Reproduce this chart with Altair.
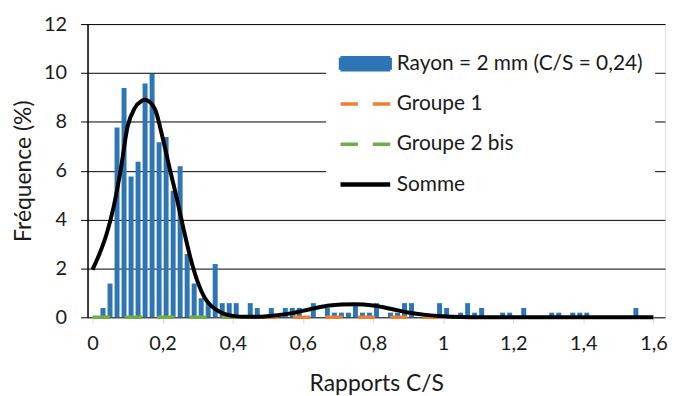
import altair as alt
import pandas as pd

# ---------------- data ----------------
SERIES = ["Rayon = 2 mm (C/S = 0,24)", "Groupe 1", "Groupe 2 bis", "Somme"]
COLORS = ["#2e75b6", "#ed7d31", "#70ad47", "#000000"]

# histogram (bin centres, frequency %)
bar_x = [0.03, 0.05, 0.07, 0.09, 0.11, 0.13, 0.15, 0.17, 0.19, 0.21,
         0.23, 0.25, 0.27, 0.29, 0.31, 0.33, 0.35, 0.37, 0.39, 0.41,
         0.45, 0.47, 0.51, 0.55, 0.57, 0.59, 0.63, 0.67, 0.69, 0.71,
         0.73, 0.75, 0.77, 0.79, 0.81, 0.85, 0.87, 0.89, 0.91, 0.99,
         1.01, 1.05, 1.07, 1.09, 1.11, 1.17, 1.19, 1.23, 1.31, 1.33,
         1.37, 1.39, 1.41, 1.55]
bar_y = [0.38, 1.38, 7.77, 9.38, 5.76, 6.37, 9.57, 9.97, 7.16, 7.38,
         5.18, 6.18, 2.59, 1.38, 0.78, 0.58, 2.18, 0.58, 0.58, 0.58,
         0.58, 0.38, 0.38, 0.38, 0.38, 0.38, 0.58, 0.38, 0.19, 0.19,
         0.19, 0.58, 0.19, 0.19, 0.58, 0.19, 0.19, 0.58, 0.58, 0.58,
         0.38, 0.19, 0.58, 0.19, 0.38, 0.19, 0.19, 0.38, 0.19, 0.19,
         0.19, 0.19, 0.19, 0.38]

# sum curve
somme_x = [0.0, 0.02, 0.04, 0.06, 0.08, 0.10, 0.12, 0.14, 0.15, 0.16,
           0.18, 0.20, 0.22, 0.24, 0.26, 0.28, 0.30, 0.32, 0.34, 0.36,
           0.38, 0.40, 0.43, 0.47, 0.52, 0.57, 0.62, 0.67, 0.71, 0.75,
           0.80, 0.85, 0.90, 0.95, 1.00, 1.05, 1.10, 1.20, 1.40, 1.60]
somme_y = [1.95, 2.6, 3.4, 4.5, 6.0, 7.8, 8.55, 8.85, 8.9, 8.85,
           8.45, 7.35, 6.1, 4.9, 3.6, 2.4, 1.45, 0.8, 0.45, 0.25,
           0.12, 0.06, 0.02, 0.02, 0.07, 0.17, 0.33, 0.47, 0.52, 0.53,
           0.48, 0.35, 0.2, 0.1, 0.04, 0.01, 0.0, 0.0, 0.0, 0.0]

groupe1_x = [0.48, 1.0]
groupe1_y = [0.0, 0.0]
groupe2_x = [0.0, 0.41]
groupe2_y = [0.0, 0.0]

x_ticks = [0, 0.2, 0.4, 0.6, 0.8, 1.0, 1.2, 1.4, 1.6]
y_ticks = [0, 2, 4, 6, 8, 10, 12]

# ---------------- tables ----------------
bars = pd.DataFrame({"x": bar_x, "y": bar_y, "serie": SERIES[0]})
g1 = pd.DataFrame({"x": groupe1_x, "y": groupe1_y, "serie": SERIES[1]})
g2 = pd.DataFrame({"x": groupe2_x, "y": groupe2_y, "serie": SERIES[2]})
som = pd.DataFrame({"x": somme_x, "y": somme_y, "serie": SERIES[3]})

FONT = "Lato"
TXT = "#1a1a1a"

R = SERIES[0]
leg = alt.Legend(
    title=None, orient="none", legendX=240, legendY=18,
    fillColor="white", padding=12,
    symbolSize=2500, clipHeight=20, rowPadding=19.5,
    symbolOffset=17,
    labelFont=FONT, labelFontSize=21, labelColor=TXT, labelOffset=21,
    labelLimit=400,
    symbolType={"expr": f"datum.value === '{R}' ? 'M-1,-0.24L1,-0.24L1,0.24L-1,0.24Z' : 'M-1,0L1,0'"},
    symbolFillColor={"expr": f"datum.value === '{R}' ? '{COLORS[0]}' : 'transparent'"},
    symbolStrokeColor={"expr": f"datum.value === '{R}' ? 'transparent' : datum.value === '{SERIES[1]}' ? '{COLORS[1]}' : datum.value === '{SERIES[2]}' ? '{COLORS[2]}' : '{COLORS[3]}'"},
    symbolDash={"expr": f"datum.value === '{SERIES[1]}' || datum.value === '{SERIES[2]}' ? [17.5, 15] : [1, 0]"},
    symbolStrokeWidth={"expr": f"datum.value === '{SERIES[3]}' ? 4.5 : 3.5"},
    symbolOpacity=1,
)

color = alt.Color("serie:N", scale=alt.Scale(domain=SERIES, range=COLORS),
                  sort=SERIES, legend=leg)

xenc = alt.X("x:Q",
             scale=alt.Scale(domain=[0, 1.619], nice=False, zero=False),
             axis=alt.Axis(values=x_ticks, grid=False, domain=False,
                           tickColor="#d9d9d9", tickSize=6, tickWidth=1,
                           labelExpr="replace(format(datum.value, '~g'), '.', ',')",
                           labelFont=FONT, labelFontSize=20, labelColor=TXT,
                           labelPadding=10, labelFlush=False,
                           title="Rapports C/S", titleFont=FONT, titleFontSize=23,
                           titleFontWeight="normal", titleColor=TXT, titlePadding=20))
yenc = alt.Y("y:Q",
             scale=alt.Scale(domain=[0, 12], nice=False),
             axis=alt.Axis(values=y_ticks, grid=True, gridColor="#000000", gridWidth=1,
                           domain=True, domainColor="#000000", domainWidth=1.5,
                           tickColor="#000000", tickSize=7, tickWidth=1,
                           labelFont=FONT, labelFontSize=20, labelColor=TXT,
                           labelPadding=14,
                           title="Fréquence (%)", titleFont=FONT, titleFontSize=23,
                           titleFontWeight="normal", titleColor=TXT, titlePadding=8))

bar_layer = alt.Chart(bars).mark_bar(size=5).encode(x=xenc, y=yenc, color=color)
g2_layer = alt.Chart(g2).mark_line(strokeWidth=3.5, strokeDash=[17.5, 15], strokeCap="butt").encode(
    x="x:Q", y="y:Q", color=color)
g1_layer = alt.Chart(g1).mark_line(strokeWidth=3.5, strokeDash=[17.5, 15], strokeCap="butt").encode(
    x="x:Q", y="y:Q", color=color)
som_layer = alt.Chart(som).mark_line(strokeWidth=4, interpolate="monotone").encode(
    x="x:Q", y="y:Q", color=color)

chart = alt.layer(bar_layer, g2_layer, g1_layer, som_layer).properties(
    width=581, height=295,
    autosize=alt.AutoSizeParams(type="none"),
    padding={"left": 80, "top": 15, "right": 10, "bottom": 78},
).configure_view(stroke=None).configure(background="white")

chart.save("out.html", embed_options={"renderer": "svg", "actions": False})
